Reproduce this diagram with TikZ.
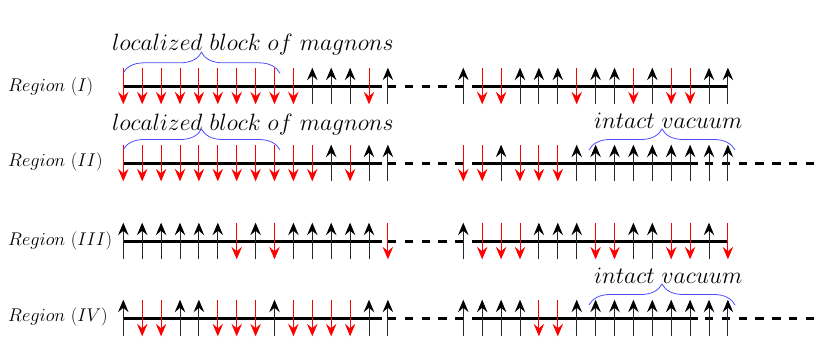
\RequirePackage{fix-cm}
\documentclass[tikz,border=0pt]{standalone}
\usetikzlibrary{arrows.meta,decorations.pathreplacing}
\newcommand\spinrow[3]{%
  \foreach \t [count=\i from 0] in {#2} {\draw[s\t] ({123.3+18.9*\i},{#1+18.3}) -- ({123.3+18.9*\i},{#1-18.3});}%
  \foreach \t [count=\i from 0] in {#3} {\draw[s\t] ({463.3+18.9*\i},{#1+18.3}) -- ({463.3+18.9*\i},{#1-18.3});}%
}
\begin{document}
\begin{tikzpicture}[x=1pt,y=-1pt,
  su/.style={draw=black!85, line width=0.9pt, -{Stealth[length=12.5pt,width=10.5pt,inset=4.5pt,color=black]}},
  sd/.style={draw=red, line width=0.9pt, {Stealth[length=12.5pt,width=10.5pt,inset=4.5pt]}-},
  chain/.style={line width=3pt},
  gapline/.style={line width=3pt, dash pattern=on 8.4pt off 8.4pt},
  brc/.style={draw=blue!70, line width=0.8pt, decorate, decoration={brace, amplitude=21pt}},
  lbl/.style={anchor=base west, inner sep=0pt, font=\fontsize{18.4}{20}\selectfont},
  btxt/.style={anchor=base west, inner sep=0pt, font=\fontsize{23.6}{26}\selectfont}]
\useasboundingbox (0,0) rectangle (829,343);

% labels
\node[lbl] (r1) at (8,91) {$Region\ (I)$};
\node[lbl] (r2) at (8,166.7) {$Region\ (II)$};
\node[lbl] (r3) at (8,245) {$Region\ (III)$};
\node[lbl] (r4) at (8,321.7) {$Region\ (IV)$};

% chains
\foreach \y/\e in {86/728, 163/698, 241/728, 318/698} {
  \coordinate (a) at (123.3,\y);
  \coordinate (b) at (382,\y);
  \coordinate (c) at (388,\y);
  \coordinate (d) at (472.7,\y);
  \coordinate (e) at (\e,\y);
  \draw[chain] (a) -- (b);
  \draw[gapline] (c) -- (d);
  \draw[chain] (d) -- (e);
}
\foreach \y in {163, 318} {
  \coordinate (f) at (705,\y);
  \coordinate (g) at (815,\y);
  \draw[gapline] (f) -- (g);
}

% spins
\spinrow{86}{d,d,d,d,d,d,d,d,d,d,u,u,u,d,u}{u,d,d,u,u,u,d,u,u,d,u,d,d,u,u}
\spinrow{163}{d,d,d,d,d,d,d,d,d,d,d,u,d,u,u}{d,d,u,d,d,d,u,u,u,u,u,u,u,u,u}
\spinrow{241}{u,u,u,u,u,u,d,u,d,u,u,u,u,u,d}{u,d,d,d,u,u,u,d,d,u,u,d,d,u,d}
\spinrow{318}{u,d,d,u,u,d,d,d,u,d,d,d,d,u,u}{u,u,u,u,d,d,u,u,u,u,u,u,u,u,u}

% braces
\coordinate (b1s) at (123,73.3); \coordinate (b1e) at (280,73.3);
\draw[brc] (b1s) -- (b1e);
\node[btxt] (t1) at (112,50.7) {$localized\ block\ of\ magnons$};
\coordinate (b2s) at (123,150); \coordinate (b2e) at (280,150);
\draw[brc] (b2s) -- (b2e);
\node[btxt] (t2) at (112,130.7) {$localized\ block\ of\ magnons$};
\coordinate (b3s) at (589,150); \coordinate (b3e) at (735,150);
\draw[brc] (b3s) -- (b3e);
\node[btxt] (t3) at (594,128.5) {$intact\ vacuum$};
\coordinate (b4s) at (589,305); \coordinate (b4e) at (735,305);
\draw[brc] (b4s) -- (b4e);
\node[btxt] (t4) at (594,283) {$intact\ vacuum$};
\end{tikzpicture}
\end{document}
